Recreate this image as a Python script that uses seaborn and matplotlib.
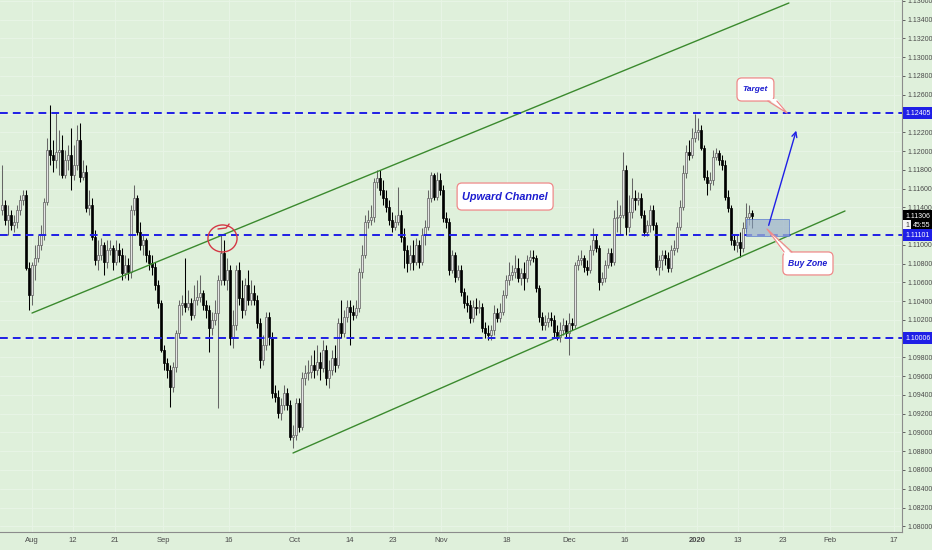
import numpy as np
import pandas as pd
import matplotlib
matplotlib.use("Agg")
import matplotlib.pyplot as plt
from matplotlib.patches import Rectangle, Ellipse, FancyBboxPatch, Polygon
import seaborn as sns

# 12H EURUSD candles (bar index 0 = Jul 25)
opens = [
    1.1137, 1.1142, 1.1127, 1.1132, 1.1121, 1.1124, 1.1137, 1.1148, 1.1153, 1.1075,
    1.1047, 1.1078, 1.1086, 1.1100, 1.1110, 1.1146, 1.1201, 1.1196, 1.1190, 1.1199,
    1.1201, 1.1174, 1.1190, 1.1196, 1.1174, 1.1185, 1.1212, 1.1172, 1.1178, 1.1139,
    1.1142, 1.1108, 1.1084, 1.1089, 1.1100, 1.1082, 1.1095, 1.1097, 1.1082, 1.1095,
    1.1089, 1.1070, 1.1078, 1.1071, 1.1137, 1.1150, 1.1114, 1.1100, 1.1105, 1.1089,
    1.1081, 1.1076, 1.1057, 1.1038, 1.0988, 1.0974, 1.0967, 1.0948, 1.0970, 1.1006,
    1.1036, 1.1038, 1.1034, 1.1038, 1.1025, 1.1041, 1.1044, 1.1049, 1.1036, 1.1031,
    1.1011, 1.1020, 1.1027, 1.1063, 1.1091, 1.1063, 1.1073, 1.1001, 1.1015, 1.1073,
    1.1043, 1.1031, 1.1057, 1.1041, 1.1049, 1.1041, 1.1017, 1.0977, 1.0993, 1.1023,
    1.1002, 1.0942, 1.0938, 1.0921, 1.0929, 1.0942, 1.0929, 1.0895, 1.0897, 1.0931,
    1.0906, 1.0958, 1.0963, 1.0964, 1.0972, 1.0967, 1.0975, 1.0969, 1.0988, 1.0958,
    1.0967, 1.0979, 1.0972, 1.1017, 1.1006, 1.1023, 1.1034, 1.1028, 1.1025, 1.1033,
    1.1071, 1.1089, 1.1124, 1.1127, 1.1130, 1.1167, 1.1171, 1.1158, 1.1150, 1.1140,
    1.1127, 1.1119, 1.1124, 1.1132, 1.1108, 1.1095, 1.1081, 1.1089, 1.1082, 1.1100,
    1.1082, 1.1110, 1.1119, 1.1150, 1.1174, 1.1151, 1.1169, 1.1158, 1.1129, 1.1124,
    1.1073, 1.1089, 1.1066, 1.1073, 1.1050, 1.1038, 1.1036, 1.1022, 1.1034, 1.1033,
    1.1034, 1.1011, 1.1006, 1.1004, 1.1009, 1.1027, 1.1022, 1.1028, 1.1047, 1.1063,
    1.1068, 1.1071, 1.1075, 1.1065, 1.1070, 1.1065, 1.1084, 1.1087, 1.1086, 1.1054,
    1.1023, 1.1015, 1.1018, 1.1022, 1.1020, 1.1007, 1.1002, 1.1009, 1.1015, 1.1006,
    1.1017, 1.1015, 1.1078, 1.1084, 1.1086, 1.1076, 1.1073, 1.1095, 1.1105, 1.1097,
    1.1060, 1.1065, 1.1078, 1.1091, 1.1082, 1.1129, 1.1130, 1.1132, 1.1180, 1.1119,
    1.1135, 1.1150, 1.1148, 1.1150, 1.1132, 1.1114, 1.1121, 1.1137, 1.1121, 1.1076,
    1.1084, 1.1089, 1.1086, 1.1075, 1.1095, 1.1097, 1.1119, 1.1140, 1.1177, 1.1199,
    1.1196, 1.1214, 1.1220, 1.1222, 1.1203, 1.1172, 1.1166, 1.1169, 1.1194, 1.1198,
    1.1190, 1.1185, 1.1151, 1.1139, 1.1105, 1.1100, 1.1103, 1.1097, 1.1118, 1.1130,
    1.1134,
]
highs = [
    1.1185, 1.1148, 1.1142, 1.1137, 1.1132, 1.1142, 1.1153, 1.1158, 1.1158, 1.1082,
    1.1082, 1.1100, 1.1110, 1.1121, 1.1150, 1.1214, 1.1249, 1.1212, 1.1242, 1.1222,
    1.1217, 1.1201, 1.1206, 1.1225, 1.1206, 1.1228, 1.1230, 1.1190, 1.1185, 1.1158,
    1.1150, 1.1116, 1.1105, 1.1107, 1.1103, 1.1105, 1.1105, 1.1100, 1.1105, 1.1102,
    1.1097, 1.1089, 1.1086, 1.1142, 1.1164, 1.1153, 1.1124, 1.1110, 1.1107, 1.1095,
    1.1089, 1.1082, 1.1063, 1.1041, 1.0993, 1.0979, 1.0972, 1.0975, 1.1009, 1.1041,
    1.1047, 1.1086, 1.1052, 1.1043, 1.1057, 1.1063, 1.1068, 1.1052, 1.1041, 1.1036,
    1.1028, 1.1041, 1.1068, 1.1110, 1.1105, 1.1086, 1.1078, 1.1031, 1.1078, 1.1082,
    1.1063, 1.1065, 1.1073, 1.1063, 1.1057, 1.1047, 1.1022, 1.1004, 1.1028, 1.1028,
    1.1007, 1.0951, 1.0945, 1.0937, 1.0951, 1.0947, 1.0935, 1.0908, 1.0937, 1.0937,
    1.0964, 1.0972, 1.0977, 1.0983, 1.0988, 1.0993, 1.0986, 1.0999, 1.0993, 1.0977,
    1.0988, 1.0993, 1.1022, 1.1041, 1.1031, 1.1041, 1.1041, 1.1036, 1.1041, 1.1075,
    1.1100, 1.1132, 1.1137, 1.1142, 1.1171, 1.1180, 1.1180, 1.1169, 1.1158, 1.1148,
    1.1135, 1.1132, 1.1162, 1.1137, 1.1118, 1.1100, 1.1100, 1.1105, 1.1107, 1.1105,
    1.1118, 1.1127, 1.1158, 1.1178, 1.1177, 1.1178, 1.1177, 1.1164, 1.1135, 1.1129,
    1.1095, 1.1092, 1.1078, 1.1078, 1.1054, 1.1047, 1.1041, 1.1041, 1.1043, 1.1041,
    1.1038, 1.1018, 1.1015, 1.1015, 1.1036, 1.1033, 1.1038, 1.1052, 1.1068, 1.1082,
    1.1078, 1.1089, 1.1086, 1.1075, 1.1082, 1.1089, 1.1095, 1.1095, 1.1089, 1.1057,
    1.1028, 1.1025, 1.1028, 1.1028, 1.1025, 1.1015, 1.1018, 1.1022, 1.1020, 1.1027,
    1.1022, 1.1082, 1.1089, 1.1095, 1.1089, 1.1084, 1.1100, 1.1118, 1.1110, 1.1100,
    1.1071, 1.1084, 1.1097, 1.1097, 1.1137, 1.1148, 1.1142, 1.1199, 1.1185, 1.1153,
    1.1171, 1.1158, 1.1156, 1.1155, 1.1137, 1.1127, 1.1142, 1.1142, 1.1124, 1.1089,
    1.1095, 1.1095, 1.1092, 1.1100, 1.1105, 1.1124, 1.1148, 1.1185, 1.1206, 1.1212,
    1.1225, 1.1240, 1.1235, 1.1228, 1.1206, 1.1180, 1.1178, 1.1201, 1.1203, 1.1201,
    1.1196, 1.1190, 1.1158, 1.1142, 1.1110, 1.1110, 1.1114, 1.1124, 1.1145, 1.1142,
    1.1137,
]
lows = [
    1.1132, 1.1121, 1.1110, 1.1116, 1.1114, 1.1118, 1.1132, 1.1142, 1.1073, 1.1031,
    1.1036, 1.1063, 1.1082, 1.1095, 1.1105, 1.1142, 1.1185, 1.1178, 1.1182, 1.1174,
    1.1171, 1.1171, 1.1180, 1.1158, 1.1169, 1.1180, 1.1167, 1.1169, 1.1135, 1.1132,
    1.1105, 1.1078, 1.1073, 1.1084, 1.1068, 1.1075, 1.1089, 1.1073, 1.1078, 1.1082,
    1.1063, 1.1065, 1.1063, 1.1065, 1.1132, 1.1110, 1.1095, 1.1089, 1.1082, 1.1073,
    1.1068, 1.1052, 1.1033, 1.0986, 1.0967, 1.0958, 1.0927, 1.0943, 1.0964, 1.1001,
    1.1025, 1.1028, 1.1031, 1.1020, 1.1022, 1.1036, 1.1039, 1.1031, 1.1022, 1.0986,
    1.1004, 1.1015, 1.0926, 1.1057, 1.1057, 1.1052, 1.0993, 1.0990, 1.1009, 1.1036,
    1.1022, 1.1025, 1.1036, 1.1036, 1.1036, 1.1011, 1.0969, 1.0972, 1.0988, 1.0993,
    1.0937, 1.0932, 1.0915, 1.0913, 1.0924, 1.0924, 1.0892, 1.0883, 1.0892, 1.0900,
    1.0903, 1.0951, 1.0956, 1.0958, 1.0958, 1.0961, 1.0956, 1.0964, 1.0951, 1.0947,
    1.0961, 1.0964, 1.0969, 1.1001, 1.1002, 1.1018, 1.0993, 1.1020, 1.1022, 1.1028,
    1.1065, 1.1086, 1.1118, 1.1121, 1.1124, 1.1161, 1.1153, 1.1142, 1.1135, 1.1121,
    1.1114, 1.1116, 1.1121, 1.1103, 1.1075, 1.1071, 1.1073, 1.1073, 1.1078, 1.1075,
    1.1078, 1.1100, 1.1116, 1.1146, 1.1148, 1.1148, 1.1153, 1.1124, 1.1118, 1.1068,
    1.1070, 1.1060, 1.1063, 1.1045, 1.1033, 1.1028, 1.1017, 1.1018, 1.1025, 1.1027,
    1.1007, 1.1001, 1.0999, 1.0999, 1.1004, 1.1018, 1.1018, 1.1025, 1.1043, 1.1057,
    1.1063, 1.1065, 1.1060, 1.1057, 1.1052, 1.1060, 1.1078, 1.1082, 1.1050, 1.1018,
    1.1009, 1.1009, 1.1012, 1.1013, 1.1002, 1.0999, 1.0996, 1.1004, 1.1001, 1.0983,
    1.1009, 1.1011, 1.1073, 1.1078, 1.1071, 1.1068, 1.1070, 1.1089, 1.1092, 1.1052,
    1.1057, 1.1060, 1.1075, 1.1077, 1.1078, 1.1114, 1.1110, 1.1129, 1.1110, 1.1114,
    1.1129, 1.1137, 1.1142, 1.1129, 1.1109, 1.1109, 1.1114, 1.1116, 1.1073, 1.1068,
    1.1073, 1.1078, 1.1071, 1.1071, 1.1089, 1.1092, 1.1116, 1.1137, 1.1171, 1.1190,
    1.1193, 1.1210, 1.1212, 1.1201, 1.1169, 1.1153, 1.1158, 1.1164, 1.1190, 1.1185,
    1.1180, 1.1148, 1.1135, 1.1100, 1.1095, 1.1092, 1.1087, 1.1092, 1.1114, 1.1121,
    1.1118,
]
closes = [
    1.1142, 1.1127, 1.1132, 1.1121, 1.1124, 1.1137, 1.1148, 1.1153, 1.1075, 1.1047,
    1.1078, 1.1086, 1.1100, 1.1110, 1.1146, 1.1201, 1.1196, 1.1190, 1.1199, 1.1201,
    1.1174, 1.1190, 1.1196, 1.1174, 1.1185, 1.1212, 1.1172, 1.1178, 1.1139, 1.1142,
    1.1108, 1.1084, 1.1089, 1.1100, 1.1082, 1.1095, 1.1097, 1.1082, 1.1095, 1.1089,
    1.1070, 1.1078, 1.1071, 1.1137, 1.1150, 1.1114, 1.1100, 1.1105, 1.1089, 1.1081,
    1.1076, 1.1057, 1.1038, 1.0988, 1.0974, 1.0967, 1.0948, 1.0970, 1.1006, 1.1036,
    1.1038, 1.1034, 1.1038, 1.1025, 1.1041, 1.1044, 1.1049, 1.1036, 1.1031, 1.1011,
    1.1020, 1.1027, 1.1063, 1.1091, 1.1063, 1.1073, 1.1001, 1.1015, 1.1073, 1.1043,
    1.1031, 1.1057, 1.1041, 1.1049, 1.1041, 1.1017, 1.0977, 1.0993, 1.1023, 1.1002,
    1.0942, 1.0938, 1.0921, 1.0929, 1.0942, 1.0929, 1.0895, 1.0897, 1.0931, 1.0906,
    1.0958, 1.0963, 1.0964, 1.0972, 1.0967, 1.0975, 1.0969, 1.0988, 1.0958, 1.0967,
    1.0979, 1.0972, 1.1017, 1.1006, 1.1023, 1.1034, 1.1028, 1.1025, 1.1033, 1.1071,
    1.1089, 1.1124, 1.1127, 1.1130, 1.1167, 1.1171, 1.1158, 1.1150, 1.1140, 1.1127,
    1.1119, 1.1124, 1.1132, 1.1108, 1.1095, 1.1081, 1.1089, 1.1082, 1.1100, 1.1082,
    1.1110, 1.1119, 1.1150, 1.1174, 1.1151, 1.1169, 1.1158, 1.1129, 1.1124, 1.1073,
    1.1089, 1.1066, 1.1073, 1.1050, 1.1038, 1.1036, 1.1022, 1.1034, 1.1033, 1.1034,
    1.1011, 1.1006, 1.1004, 1.1009, 1.1027, 1.1022, 1.1028, 1.1047, 1.1063, 1.1068,
    1.1071, 1.1075, 1.1065, 1.1070, 1.1065, 1.1084, 1.1087, 1.1086, 1.1054, 1.1023,
    1.1015, 1.1018, 1.1022, 1.1020, 1.1007, 1.1002, 1.1009, 1.1015, 1.1006, 1.1017,
    1.1015, 1.1078, 1.1084, 1.1086, 1.1076, 1.1073, 1.1095, 1.1105, 1.1097, 1.1060,
    1.1065, 1.1078, 1.1091, 1.1082, 1.1129, 1.1130, 1.1132, 1.1180, 1.1119, 1.1135,
    1.1150, 1.1148, 1.1150, 1.1132, 1.1114, 1.1121, 1.1137, 1.1121, 1.1076, 1.1084,
    1.1089, 1.1086, 1.1075, 1.1095, 1.1097, 1.1119, 1.1140, 1.1177, 1.1199, 1.1196,
    1.1214, 1.1220, 1.1222, 1.1203, 1.1172, 1.1166, 1.1169, 1.1194, 1.1198, 1.1190,
    1.1185, 1.1151, 1.1139, 1.1105, 1.1100, 1.1103, 1.1097, 1.1118, 1.1130, 1.1134,
    1.1131,
]

# date labels on the bar axis
tick_pos = [10, 23.7, 37.7, 53.7, 75.7, 97.7, 116, 130.3, 146.3, 168.3,
            189, 207.7, 231.7, 245.3, 260.3, 276, 297.3]
tick_labels = ["Aug", "12", "21", "Sep", "16", "Oct", "14", "23", "Nov", "18",
               "Dec", "16", "2020", "13", "23", "Feb", "17"]

# horizontal levels and price tags
levels = [1.12405, 1.11101, 1.10006]
last_price = 1.11306
countdown = "45:55"

# channel lines (bar index, price)
upper_x = [10, 262.3]
upper_y = [1.10273, 1.13578]
lower_x = [97, 281]
lower_y = [1.08781, 1.11361]

BG = "#dff0db"
BLUE = "#1f1fe6"
GREEN = "#3b8a2e"
SALMON = "#ef8a8a"
TXT_BLUE = "#1c1cd0"

sns.set_theme(style="white")
plt.rcParams["font.family"] = ["Liberation Sans", "DejaVu Sans"]

fig = plt.figure(figsize=(9.32, 5.5), dpi=100, facecolor=BG)
ax = fig.add_axes([0, 18 / 550, 902 / 932, 532 / 550])
ax.set_facecolor(BG)

df = pd.DataFrame({"open": opens, "high": highs, "low": lows, "close": closes})
df["bar"] = np.arange(len(df))
df["bottom"] = df[["open", "close"]].min(axis=1)
df["body"] = (df["close"] - df["open"]).abs().clip(lower=0.00005)
up = df[df["close"] >= df["open"]]
dn = df[df["close"] < df["open"]]

# wicks
ax.vlines(up["bar"], up["low"], up["high"], color="#666666", lw=0.75, zorder=2)
ax.vlines(dn["bar"], dn["low"], dn["high"], color="#000000", lw=0.75, zorder=2)
# bodies
ax.bar(up["bar"], up["body"], bottom=up["bottom"], width=0.72,
       color="#e4e4e4", edgecolor="#5e5e5e", linewidth=0.5, zorder=3)
ax.bar(dn["bar"], dn["body"], bottom=dn["bottom"], width=0.72,
       color="#000000", edgecolor="#000000", linewidth=0.5, zorder=3)

# channel
sns.lineplot(x=upper_x, y=upper_y, ax=ax, color=GREEN, lw=1.0, zorder=4)
sns.lineplot(x=lower_x, y=lower_y, ax=ax, color=GREEN, lw=1.0, zorder=4)

for lv in levels:
    ax.axhline(lv, color=BLUE, lw=1.4, ls=(0, (4, 2.6)), zorder=4)

# red circle on the breakout
ax.add_patch(Ellipse((73.5, 1.11068), 9.7, 0.00288, fill=False,
                     ec="#d43845", lw=1.0, zorder=6))
ax.plot([72, 74.7, 75.7], [1.11169, 1.1118, 1.11222], color="#d43845", lw=1.0, zorder=6)

# buy zone box
ax.add_patch(Rectangle((248, 1.11094), 14.3, 0.00182, fc="#9fb4cc", alpha=0.75,
                       ec="#4d6fd0", lw=0.6, zorder=5))

# projected move
ax.annotate("", xy=(265, 1.12246), xytext=(255.3, 1.1118),
            arrowprops=dict(arrowstyle="->", color=BLUE, lw=1.0, mutation_scale=9),
            zorder=7)

ASPECT = 1.066e-4 * 3  # price per bar on screen, keeps round corners round


def callout(x0, y0, w, h, text, size, tip=None, base=None):
    box = FancyBboxPatch((x0, y0), w, h, boxstyle="round,pad=0,rounding_size=1.6",
                         mutation_aspect=ASPECT, fc="white", ec=SALMON, lw=0.9, zorder=10)
    ax.add_patch(box)
    if tip is not None:
        (bx0, bx1, by, inner) = base
        ax.add_patch(Polygon([(bx0, inner), (bx1, inner), tip], closed=True,
                             fc="white", ec="none", zorder=11))
        ax.plot([bx0, tip[0], bx1], [by, tip[1], by], color=SALMON, lw=0.9, zorder=12)
    ax.text(x0 + w / 2, y0 + h / 2, text, ha="center", va="center", fontsize=size,
            fontweight="bold", fontstyle="italic", color=TXT_BLUE, zorder=13)


callout(151.7, 1.11371, 32, 0.00288, "Upward Channel", 7.8)
callout(245, 1.12533, 12.3, 0.00246, "Target", 6.0,
        tip=(261.7, 1.12405), base=(255.3, 258.3, 1.12533, 1.12555))
callout(260.3, 1.10679, 16.7, 0.00245, "Buy Zone", 6.2,
        tip=(255, 1.11169), base=(260.7, 263.3, 1.10924, 1.10902))

# axes
ax.set_xlim(-0.67, 300)
ax.set_ylim(1.07939, 1.1361)
ax.set_xticks(tick_pos, tick_labels)
for lab in ax.get_xticklabels():
    if lab.get_text() == "2020":
        lab.set_fontweight("bold")
yt = np.round(np.arange(1.080, 1.1361, 0.002), 3)
# scale labels hidden behind the price tags are left blank
hidden = {1.124, 1.112, 1.100}
ax.set_yticks(yt, ["" if v in hidden else f"{v:.5f}" for v in yt])
ax.yaxis.tick_right()
ax.tick_params(axis="y", labelsize=5, colors="#4a4a4a", length=2.2, width=0.6, pad=2)
ax.tick_params(axis="x", labelsize=5.5, colors="#4a4a4a", length=2, width=0.6, pad=1.5)
ax.grid(True, color="#e8f5e6", lw=0.7)
ax.set_axisbelow(True)
for side in ["top", "left"]:
    ax.spines[side].set_visible(False)
for side in ["right", "bottom"]:
    ax.spines[side].set_color("#8c8c8c")
    ax.spines[side].set_linewidth(0.8)
ax.set_xlabel("")
ax.set_ylabel("")

# price tags on the scale
ytr = ax.get_yaxis_transform()


def tag(x, y, text, fc, tc):
    ax.text(x, y, text, transform=ytr, ha="left", va="center", fontsize=5, color=tc,
            clip_on=False, zorder=20,
            bbox=dict(boxstyle="square,pad=0.35", fc=fc, ec="none"))


tag(1.004, levels[0], "1.12405", BLUE, "white")
tag(1.004, last_price, f"{last_price:.5f}", "#000000", "white")
tag(1.004, 1.11201, "1", "#f4f4f4", "#333333")
tag(1.0125, 1.11201, countdown, "#000000", "white")
tag(1.004, levels[1], "1.11101", BLUE, "white")
tag(1.004, levels[2], "1.10006", BLUE, "white")

fig.savefig("out.png", dpi=100, facecolor=BG)
